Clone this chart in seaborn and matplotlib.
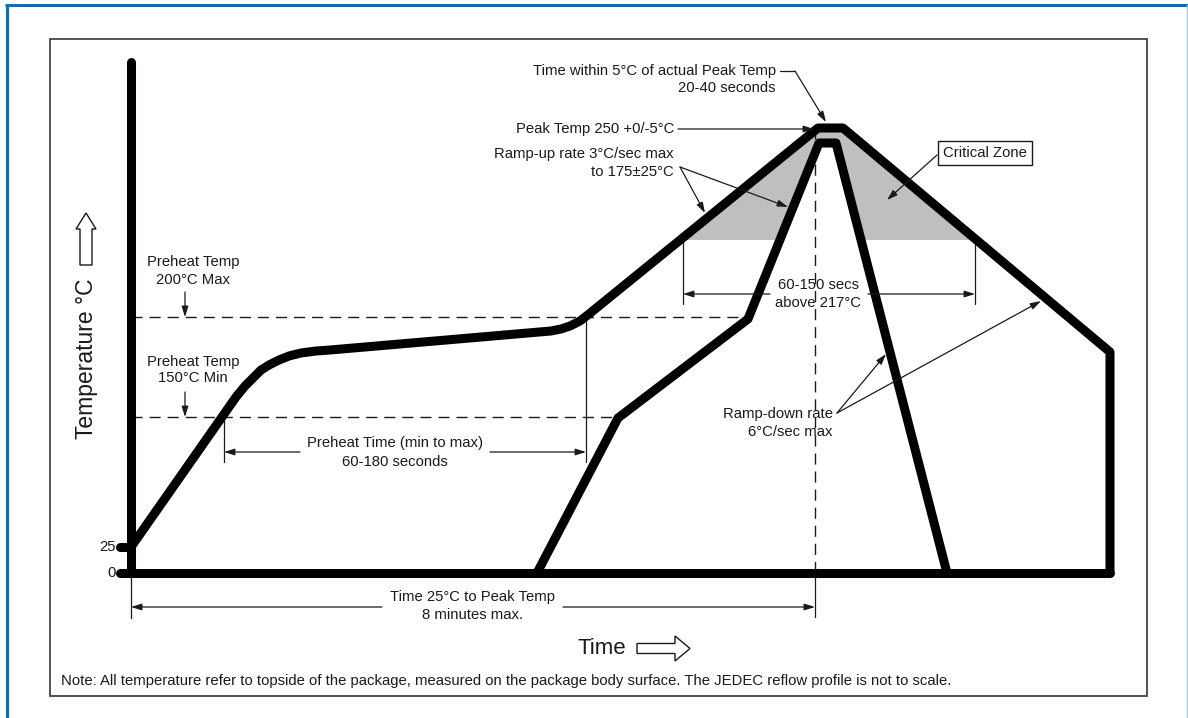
"""
JEDEC reflow profile (schematic, not to scale).
Diagram units: x = time position from the temperature axis, y = drawn height above the 0 deg line.
"""
import matplotlib
matplotlib.use("Agg")
import matplotlib.pyplot as plt
import matplotlib.patches as mpatches
import seaborn as sns

sns.set_theme(style="white")
plt.rcParams['font.family'] = ['Liberation Sans', 'DejaVu Sans']

# --- profile data ---
outer_time = [0, 91, 105, 114, 121, 130, 138, 148, 158, 170, 185, 199,
              420, 430, 439, 449, 458, 687, 712, 979, 979]
outer_temp = [26, 156, 176, 187, 194, 203, 208, 213, 217, 220, 222, 223,
              242, 244, 247, 252, 259, 445, 445, 221, 0]

inner_time = [406, 487, 617, 688, 705, 816]
inner_temp = [0, 155, 254, 430, 430, 0]

# critical zone: above 217 C, between the outer profile and the inner one
critical_time = [549, 687, 712, 845, 730, 705, 688, 649]
critical_temp = [333, 445, 445, 333, 333, 430, 430, 333]

tick_labels = ['0', '25']
tick_heights = [0, 26]

level_150 = 156
level_200 = 256
level_217 = 333
level_peak = 445

preheat_start, preheat_end = 93, 455
tal_start, tal_end = 552, 844
peak_time = 684

INK = '#1a1a1a'
FS = 10.7

fig = plt.figure(figsize=(11.88, 7.18), dpi=100)
fig.patch.set_facecolor('white')
ax = fig.add_axes([0, 0, 1, 1])

# outer frames
ax.plot([-126, 1057], [568, 568], color='#0070c0', lw=2.2, solid_capstyle='butt')
ax.plot([-124, -124], [-145, 568], color='#0070c0', lw=2.2, solid_capstyle='butt')
ax.plot([1056, 1056], [-145, 568], color='#9ec9e2', lw=1.0)
ax.add_patch(mpatches.Rectangle((-81, -123), 1097, 657, fill=False, ec='#444444', lw=1.3))

# critical zone
ax.fill(critical_time, critical_temp, color='#bfbfbf', lw=0, zorder=1)

# dashed guide lines
dash = dict(color=INK, lw=1.0, linestyle=(0, (8, 5)), zorder=2)
ax.plot([0, 609], [level_200, level_200], **dash)
ax.plot([0, 484], [level_150, level_150], **dash)
ax.plot([peak_time, peak_time], [level_peak, 0], **dash)

# extension lines
ext = dict(color=INK, lw=0.9, zorder=2)
ax.plot([preheat_start, preheat_start], [level_150, 111], **ext)
ax.plot([preheat_end, preheat_end], [255, 111], **ext)
ax.plot([tal_start, tal_start], [level_217, 269], **ext)
ax.plot([tal_end, tal_end], [level_217, 269], **ext)
ax.plot([0, 0], [0, -45], **ext)
ax.plot([peak_time, peak_time], [0, -44], **ext)

# axes
ax.plot([0, 0], [0, 511], color='black', lw=6.5, solid_capstyle='round', zorder=4)
ax.plot([-11, 979], [0, 0], color='black', lw=6.5, solid_capstyle='round', zorder=4)
ax.plot([-11, 0], [tick_heights[1], tick_heights[1]], color='black', lw=6.5,
        solid_capstyle='round', zorder=4)
for lab, h in zip(tick_labels, tick_heights):
    ax.text(-15, h, lab, ha='right', va='center', fontsize=FS, color=INK)

# profiles
sns.lineplot(x=outer_time, y=outer_temp, sort=False, estimator=None, color='black',
             lw=6.5, solid_joinstyle='round', solid_capstyle='butt', ax=ax, zorder=3)
sns.lineplot(x=inner_time, y=inner_temp, sort=False, estimator=None, color='black',
             lw=6.5, solid_joinstyle='round', solid_capstyle='butt', ax=ax, zorder=3)

arrow = dict(arrowstyle='-|>,head_length=0.7,head_width=0.22', color=INK, lw=0.9,
             mutation_scale=9, shrinkA=0, shrinkB=0)


def pointer(tip, tail):
    ax.annotate('', xy=tip, xytext=tail, arrowprops=arrow, zorder=5)


def text(x, y, s, ha='center', **kw):
    ax.text(x, y, s, ha=ha, va='center', fontsize=kw.pop('fontsize', FS), color=INK, **kw)


# dimension lines
pointer((preheat_start, 121), (169, 121))
pointer((preheat_end, 121), (359, 121))
text(264, 130, 'Preheat Time (min to max)')
text(264, 111, '60-180 seconds')

pointer((tal_start, 279), (639, 279))
pointer((tal_end, 279), (737, 279))
text(687, 288, '60-150 secs')
text(687, 270, 'above 217°C')

pointer((0, -34), (251, -34))
pointer((peak_time, -34), (432, -34))
text(342, -24, 'Time 25°C to Peak Temp')
text(342, -42, '8 minutes max.')

# preheat labels
text(62, 311, 'Preheat Temp')
text(62, 293, '200°C Max')
pointer((54, level_200), (54, 281))
text(62, 211, 'Preheat Temp')
text(62, 195, '150°C Min')
pointer((54, level_150), (54, 181))

# peak labels
text(645, 502, 'Time within 5°C of actual Peak Temp', ha='right')
text(645, 485, '20-40 seconds', ha='right')
ax.plot([649, 664], [502, 502], color=INK, lw=0.9)
pointer((695, 451), (664, 502))

text(543, 444, 'Peak Temp 250 +0/-5°C', ha='right')
pointer((683, 444), (547, 444))

text(543, 419, 'Ramp-up rate 3°C/sec max', ha='right')
text(543, 401, 'to 175±25°C', ha='right')
pointer((574, 360), (549, 406))
pointer((657, 366), (549, 406))

ax.text(854, 420, 'Critical Zone', ha='center', va='center', fontsize=FS, color=INK,
        bbox=dict(boxstyle='square,pad=0.35', fc='white', ec=INK, lw=1.0), zorder=6)
pointer((756, 373), (806, 418))

text(702, 159, 'Ramp-down rate', ha='right')
text(702, 141, '6°C/sec max', ha='right')
pointer((755, 219), (706, 160))
pointer((910, 272), (706, 160))

# axis titles with outline arrows
text(446, -75, 'Time', ha='left', fontsize=16)
ax.add_patch(mpatches.FancyArrow(506, -75.5, 53, 0, width=10, head_width=25, head_length=15,
                                 length_includes_head=True, fill=False, ec=INK, lw=1.0))
text(-44, 214, 'Temperature °C', rotation=90, fontsize=16.5)
ax.add_patch(mpatches.FancyArrow(-45, 308, 0, 52, width=12, head_width=20, head_length=16,
                                 length_includes_head=True, fill=False, ec=INK, lw=1.0))

text(-70, -108, 'Note: All temperature refer to topside of the package, measured on the package '
     'body surface. The JEDEC reflow profile is not to scale.', ha='left')

ax.set_xlim(-131, 1057)
ax.set_ylim(-145, 573)
ax.axis('off')

fig.savefig('out.png', dpi=100)
plt.close(fig)
